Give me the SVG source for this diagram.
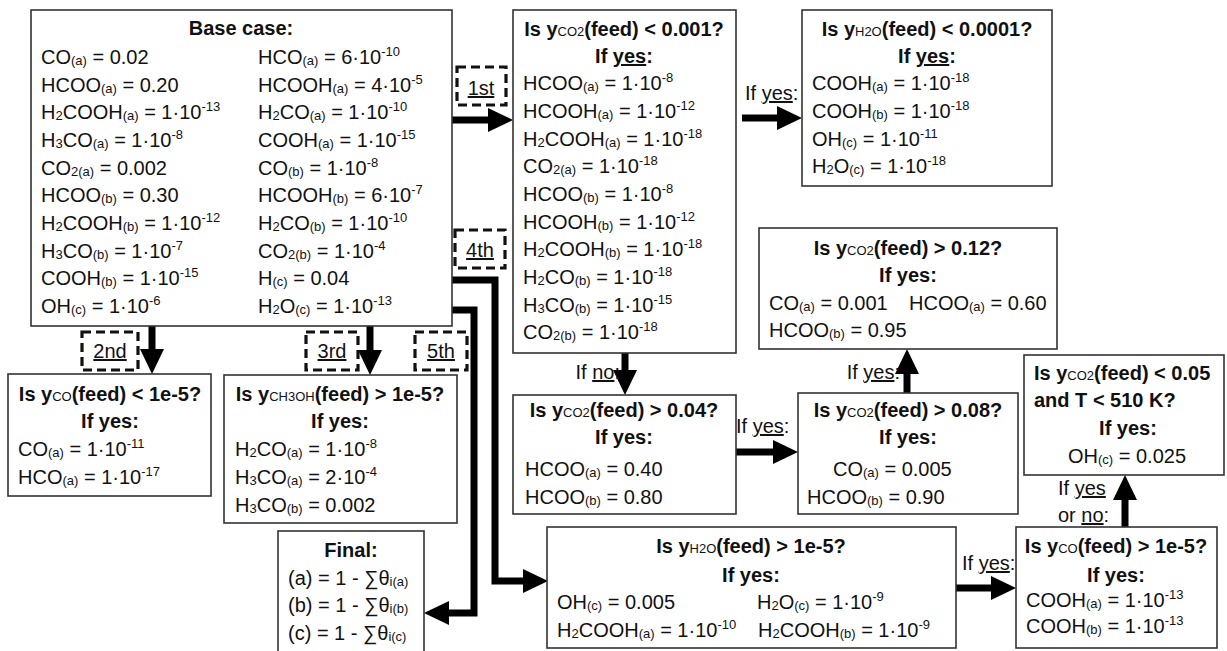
<svg xmlns="http://www.w3.org/2000/svg" width="1227" height="651" viewBox="0 0 1227 651">
<style>
text { font-family: "Liberation Sans", Arial, sans-serif; font-size: 20px; fill: #111; }
.b { font-weight: bold; }
.m { text-anchor: middle; }
.e { text-anchor: end; }
.s { font-size: 13px; baseline-shift: -1px; }
.p { font-size: 13px; baseline-shift: 8px; }
.hs { font-size: 13px; font-weight: normal; }
.u { text-decoration: underline; }
.box { fill: #fff; stroke: #333; stroke-width: 1.6; }
.dash { fill: none; stroke: #111; stroke-width: 3.2; stroke-dasharray: 9 5; }
.conn { fill: none; stroke: #000; stroke-width: 7; marker-end: url(#ah); }
</style>
<defs>
<marker id="ah" markerUnits="userSpaceOnUse" markerWidth="26" markerHeight="26" refX="5" refY="12" orient="auto">
<path d="M0,0 L25,12 L0,24 z" fill="#000"/>
</marker>
</defs>
<rect x="0" y="0" width="1227" height="651" fill="#fff"/>

<g id="connectors">
<path class="conn" d="M452,120 H493"/>
<path class="conn" d="M742,118 H782"/>
<path class="conn" d="M152,326 V354"/>
<path class="conn" d="M370,326 V355"/>
<path class="conn" d="M452,280 H495 V581 H528"/>
<path class="conn" d="M452,310 H474 V613 H444"/>
<path class="conn" d="M625,353 V375"/>
<path class="conn" d="M736,452 H778"/>
<path class="conn" d="M907,393 V369"/>
<path class="conn" d="M956,588 H996"/>
<path class="conn" d="M1125,527 V495"/>
<text x="745" y="100">If <tspan class="u">yes</tspan>:</text>
<text class="e" x="620" y="379">If <tspan class="u">no</tspan>:</text>
<text x="736" y="433">If <tspan class="u">yes</tspan>:</text>
<text class="e" x="900" y="379">If <tspan class="u">yes</tspan>:</text>
<text x="962" y="570">If <tspan class="u">yes</tspan>:</text>
<text x="1058" y="495">If <tspan class="u">yes</tspan></text>
<text x="1058" y="522">or <tspan class="u">no</tspan>:</text>
</g>

<g id="order-labels">
<rect class="dash" x="457" y="67" width="49" height="38"/>
<text class="m" x="481" y="95"><tspan class="u">1st</tspan></text>
<rect class="dash" x="455" y="230" width="50" height="38"/>
<text class="m" x="480" y="257"><tspan class="u">4th</tspan></text>
<rect class="dash" x="82" y="332" width="56" height="38"/>
<text class="m" x="110" y="358"><tspan class="u">2nd</tspan></text>
<rect class="dash" x="306" y="332" width="52" height="38"/>
<text class="m" x="332" y="358"><tspan class="u">3rd</tspan></text>
<rect class="dash" x="415" y="332" width="52" height="38"/>
<text class="m" x="441" y="358"><tspan class="u">5th</tspan></text>
</g>

<g id="base-case">
<rect class="box" x="31" y="10" width="421" height="316"/>
<text class="b m" x="241" y="35">Base case:</text>
<text x="41" y="64">CO<tspan class="s">(a)</tspan> = 0.02</text>
<text x="41" y="92">HCOO<tspan class="s">(a)</tspan> = 0.20</text>
<text x="41" y="119">H<tspan class="s">2</tspan>COOH<tspan class="s">(a)</tspan> = 1·10<tspan class="p">-13</tspan></text>
<text x="41" y="147">H<tspan class="s">3</tspan>CO<tspan class="s">(a)</tspan> = 1·10<tspan class="p">-8</tspan></text>
<text x="41" y="175">CO<tspan class="s">2(a)</tspan> = 0.002</text>
<text x="41" y="202">HCOO<tspan class="s">(b)</tspan> = 0.30</text>
<text x="41" y="230">H<tspan class="s">2</tspan>COOH<tspan class="s">(b)</tspan> = 1·10<tspan class="p">-12</tspan></text>
<text x="41" y="258">H<tspan class="s">3</tspan>CO<tspan class="s">(b)</tspan> = 1·10<tspan class="p">-7</tspan></text>
<text x="41" y="285">COOH<tspan class="s">(b)</tspan> = 1·10<tspan class="p">-15</tspan></text>
<text x="41" y="313">OH<tspan class="s">(c)</tspan> = 1·10<tspan class="p">-6</tspan></text>
<text x="258" y="64">HCO<tspan class="s">(a)</tspan> = 6·10<tspan class="p">-10</tspan></text>
<text x="258" y="92">HCOOH<tspan class="s">(a)</tspan> = 4·10<tspan class="p">-5</tspan></text>
<text x="258" y="119">H<tspan class="s">2</tspan>CO<tspan class="s">(a)</tspan> = 1·10<tspan class="p">-10</tspan></text>
<text x="258" y="147">COOH<tspan class="s">(a)</tspan> = 1·10<tspan class="p">-15</tspan></text>
<text x="258" y="175">CO<tspan class="s">(b)</tspan> = 1·10<tspan class="p">-8</tspan></text>
<text x="258" y="202">HCOOH<tspan class="s">(b)</tspan> = 6·10<tspan class="p">-7</tspan></text>
<text x="258" y="230">H<tspan class="s">2</tspan>CO<tspan class="s">(b)</tspan> = 1·10<tspan class="p">-10</tspan></text>
<text x="258" y="258">CO<tspan class="s">2(b)</tspan> = 1·10<tspan class="p">-4</tspan></text>
<text x="258" y="285">H<tspan class="s">(c)</tspan> = 0.04</text>
<text x="258" y="313">H<tspan class="s">2</tspan>O<tspan class="s">(c)</tspan> = 1·10<tspan class="p">-13</tspan></text>
</g>

<g id="co2-lt-0001">
<rect class="box" x="513" y="10" width="223" height="343"/>
<text class="b m" x="624" y="36">Is y<tspan class="hs">CO2</tspan>(feed) &lt; 0.001?</text>
<text class="b m" x="624" y="63">If <tspan class="u">yes</tspan>:</text>
<text x="523" y="90">HCOO<tspan class="s">(a)</tspan> = 1·10<tspan class="p">-8</tspan></text>
<text x="523" y="118">HCOOH<tspan class="s">(a)</tspan> = 1·10<tspan class="p">-12</tspan></text>
<text x="523" y="146">H<tspan class="s">2</tspan>COOH<tspan class="s">(a)</tspan> = 1·10<tspan class="p">-18</tspan></text>
<text x="523" y="173">CO<tspan class="s">2(a)</tspan> = 1·10<tspan class="p">-18</tspan></text>
<text x="523" y="201">HCOO<tspan class="s">(b)</tspan> = 1·10<tspan class="p">-8</tspan></text>
<text x="523" y="229">HCOOH<tspan class="s">(b)</tspan> = 1·10<tspan class="p">-12</tspan></text>
<text x="523" y="256">H<tspan class="s">2</tspan>COOH<tspan class="s">(b)</tspan> = 1·10<tspan class="p">-18</tspan></text>
<text x="523" y="284">H<tspan class="s">2</tspan>CO<tspan class="s">(b)</tspan> = 1·10<tspan class="p">-18</tspan></text>
<text x="523" y="312">H<tspan class="s">3</tspan>CO<tspan class="s">(b)</tspan> = 1·10<tspan class="p">-15</tspan></text>
<text x="523" y="339">CO<tspan class="s">2(b)</tspan> = 1·10<tspan class="p">-18</tspan></text>
</g>

<g id="h2o-lt-00001">
<rect class="box" x="802" y="10" width="250" height="176"/>
<text class="b m" x="927" y="36">Is y<tspan class="hs">H2O</tspan>(feed) &lt; 0.0001?</text>
<text class="b m" x="927" y="63">If <tspan class="u">yes</tspan>:</text>
<text x="812" y="90">COOH<tspan class="s">(a)</tspan> = 1·10<tspan class="p">-18</tspan></text>
<text x="812" y="118">COOH<tspan class="s">(b)</tspan> = 1·10<tspan class="p">-18</tspan></text>
<text x="812" y="146">OH<tspan class="s">(c)</tspan> = 1·10<tspan class="p">-11</tspan></text>
<text x="812" y="173">H<tspan class="s">2</tspan>O<tspan class="s">(c)</tspan> = 1·10<tspan class="p">-18</tspan></text>
</g>

<g id="co2-gt-012">
<rect class="box" x="759" y="228" width="298" height="121"/>
<text class="b m" x="908" y="255">Is y<tspan class="hs">CO2</tspan>(feed) &gt; 0.12?</text>
<text class="b m" x="908" y="282">If yes:</text>
<text x="769" y="310">CO<tspan class="s">(a)</tspan> = 0.001</text>
<text x="909" y="310">HCOO<tspan class="s">(a)</tspan> = 0.60</text>
<text x="769" y="337">HCOO<tspan class="s">(b)</tspan> = 0.95</text>
</g>

<g id="co-lt-1e5">
<rect class="box" x="8" y="374" width="203" height="122"/>
<text class="b m" x="110" y="401">Is y<tspan class="hs">CO</tspan>(feed) &lt; 1e-5?</text>
<text class="b m" x="110" y="428">If yes:</text>
<text x="18" y="456">CO<tspan class="s">(a)</tspan> = 1·10<tspan class="p">-11</tspan></text>
<text x="18" y="484">HCO<tspan class="s">(a)</tspan> = 1·10<tspan class="p">-17</tspan></text>
</g>

<g id="ch3oh-gt-1e5">
<rect class="box" x="224" y="375" width="233" height="148"/>
<text class="b m" x="340" y="401">Is y<tspan class="hs">CH3OH</tspan>(feed) &gt; 1e-5?</text>
<text class="b m" x="340" y="428">If yes:</text>
<text x="235" y="456">H<tspan class="s">2</tspan>CO<tspan class="s">(a)</tspan> = 1·10<tspan class="p">-8</tspan></text>
<text x="235" y="484">H<tspan class="s">3</tspan>CO<tspan class="s">(a)</tspan> = 2·10<tspan class="p">-4</tspan></text>
<text x="235" y="512">H<tspan class="s">3</tspan>CO<tspan class="s">(b)</tspan> = 0.002</text>
</g>

<g id="final">
<rect class="box" x="278" y="531" width="146" height="130"/>
<text class="b m" x="351" y="557">Final:</text>
<text x="288" y="585">(a) = 1 - ∑θ<tspan class="s">i(a)</tspan></text>
<text x="288" y="612">(b) = 1 - ∑θ<tspan class="s">i(b)</tspan></text>
<text x="288" y="640">(c) = 1 - ∑θ<tspan class="s">i(c)</tspan></text>
</g>

<g id="co2-gt-004">
<rect class="box" x="513" y="395" width="223" height="119"/>
<text class="b m" x="624" y="417">Is y<tspan class="hs">CO2</tspan>(feed) &gt; 0.04?</text>
<text class="b m" x="624" y="444">If yes:</text>
<text x="525" y="476">HCOO<tspan class="s">(a)</tspan> = 0.40</text>
<text x="525" y="504">HCOO<tspan class="s">(b)</tspan> = 0.80</text>
</g>

<g id="co2-gt-008">
<rect class="box" x="798" y="393" width="220" height="121"/>
<text class="b m" x="908" y="417">Is y<tspan class="hs">CO2</tspan>(feed) &gt; 0.08?</text>
<text class="b m" x="908" y="444">If yes:</text>
<text x="833" y="476">CO<tspan class="s">(a)</tspan> = 0.005</text>
<text x="807" y="504">HCOO<tspan class="s">(b)</tspan> = 0.90</text>
</g>

<g id="co2-lt-005-t">
<rect class="box" x="1024" y="355" width="200" height="120"/>
<text class="b" x="1034" y="380">Is y<tspan class="hs">CO2</tspan>(feed) &lt; 0.05</text>
<text class="b" x="1034" y="407">and T &lt; 510 K?</text>
<text class="b m" x="1128" y="435">If yes:</text>
<text class="m" x="1127" y="463">OH<tspan class="s">(c)</tspan> = 0.025</text>
</g>

<g id="h2o-gt-1e5">
<rect class="box" x="547" y="527" width="409" height="121"/>
<text class="b m" x="751" y="553">Is y<tspan class="hs">H2O</tspan>(feed) &gt; 1e-5?</text>
<text class="b m" x="751" y="582">If yes:</text>
<text x="557" y="609">OH<tspan class="s">(c)</tspan> = 0.005</text>
<text x="757" y="609">H<tspan class="s">2</tspan>O<tspan class="s">(c)</tspan> = 1·10<tspan class="p">-9</tspan></text>
<text x="557" y="637">H<tspan class="s">2</tspan>COOH<tspan class="s">(a)</tspan> = 1·10<tspan class="p">-10</tspan></text>
<text x="758" y="637">H<tspan class="s">2</tspan>COOH<tspan class="s">(b)</tspan> = 1·10<tspan class="p">-9</tspan></text>
</g>

<g id="co-gt-1e5">
<rect class="box" x="1016" y="527" width="201" height="121"/>
<text class="b m" x="1116" y="553">Is y<tspan class="hs">CO</tspan>(feed) &gt; 1e-5?</text>
<text class="b m" x="1116" y="582">If yes:</text>
<text x="1026" y="607">COOH<tspan class="s">(a)</tspan> = 1·10<tspan class="p">-13</tspan></text>
<text x="1026" y="633">COOH<tspan class="s">(b)</tspan> = 1·10<tspan class="p">-13</tspan></text>
</g>
</svg>
